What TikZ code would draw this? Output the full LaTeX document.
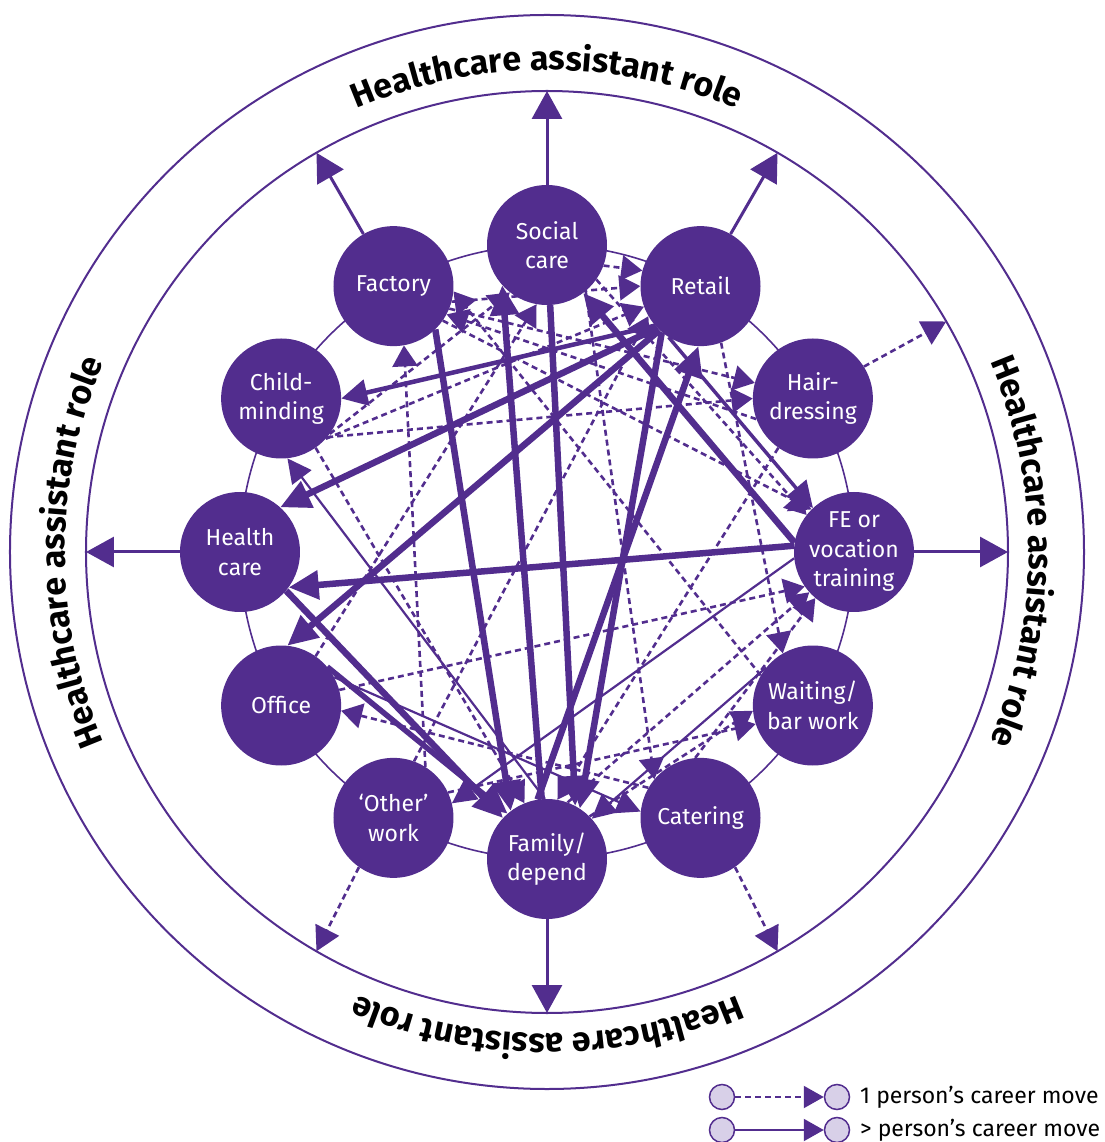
\documentclass[tikz,border=0pt]{standalone}
\usepackage{fontspec}
\setmainfont{Fira Sans}
\usetikzlibrary{arrows.meta,decorations.text}
\definecolor{pp}{RGB}{82,45,142}
\definecolor{lav}{RGB}{216,208,232}
\begin{document}
\begin{tikzpicture}[x=1pt,y=1pt,
  nd/.style={circle,fill=pp,minimum size=120pt,inner sep=0pt,align=center,text=white,font=\fontsize{23}{29.5}\selectfont},
  heavy/.style={draw=pp,line width=6.5pt,-{Triangle[length=30pt,width=28pt]}},
  medium/.style={draw=pp,line width=4.5pt,-{Triangle[length=26pt,width=26pt]}},
  light/.style={draw=pp,line width=2.2pt,-{Triangle[length=24pt,width=24pt]}},
  dash1/.style={draw=pp,line width=2.6pt,dash pattern=on 6pt off 4pt,-{Triangle[length=21pt,width=25pt]}},
  outsolid/.style={draw=pp,line width=3pt,-{Triangle[length=28pt,width=30pt]}},
  outdash/.style={draw=pp,line width=2.6pt,dash pattern=on 6pt off 4pt,-{Triangle[length=24pt,width=26pt]}},
  ringtext/.style={decorate,decoration={text along path,text align=center,
     text={|\fontsize{34}{34}\selectfont\bfseries|Healthcare assistant role}}},
  legc/.style={circle,draw=pp,line width=1.5pt,fill=lav,minimum size=25pt,inner sep=0pt},
  legt/.style={anchor=west,inner sep=0pt,font=\fontsize{23}{27}\selectfont}
]
\useasboundingbox (-547,-590) rectangle (557,552);
% rings
\draw[pp,line width=2pt] (0,0) circle (537);
\draw[pp,line width=2pt] (0,0) circle (461);
\draw[pp,line width=1.6pt] (0,0) circle (307);
% ring texts
\path[ringtext] (130:482) arc[start angle=130,end angle=50,radius=482];
\path[ringtext] (40:482) arc[start angle=40,end angle=-40,radius=482];
\path[ringtext] (-50:482) arc[start angle=-50,end angle=-130,radius=482];
\path[ringtext] (220:482) arc[start angle=220,end angle=140,radius=482];
% nodes
\node[nd] (S)  at (90:307)  {Social\\care};
\node[nd] (R)  at (60:307)  {Retail};
\node[nd] (H)  at (30:307)  {Hair-\\dressing};
\node[nd] (FE) at (0:307)   {FE or\\vocation\\training};
\node[nd] (W)  at (-30:307) {Waiting/\\bar work};
\node[nd] (C)  at (-60:307) {Catering};
\node[nd] (F)  at (-90:307) {Family/\\depend};
\node[nd] (O)  at (-120:307) {‘Other’\\work};
\node[nd] (Of) at (-150:307) {Office};
\node[nd] (HC) at (180:307) {Health\\care};
\node[nd] (CM) at (150:307) {Child-\\minding};
\node[nd] (Fa) at (120:307) {Factory};
% ring tips
\coordinate (tS)  at (90:461);
\coordinate (tR)  at (60:461);
\coordinate (tH)  at (30:461);
\coordinate (tFE) at (0:461);
\coordinate (tC)  at (-60:461);
\coordinate (tF)  at (-90:461);
\coordinate (tO)  at (-120:461);
\coordinate (tHC) at (180:461);
\coordinate (tFa) at (120:461);
% outward arrows
\draw[outsolid] (S.90) -- (tS);
\draw[outsolid] (R.60) -- (tR);
\draw[outsolid] (FE.0) -- (tFE);
\draw[outsolid] (F.270) -- (tF);
\draw[outsolid] (HC.180) -- (tHC);
\draw[outsolid] (Fa.120) -- (tFa);
\draw[outdash] (H.32) -- (tH);
\draw[outdash] (C.-55) -- (tC);
\draw[outdash] (O.-125) -- (tO);
% dashed moves (one person)
\draw[dash1] (CM.-40) -- (H.180);
\draw[dash1] (CM.-42) -- (R.200);
\draw[dash1] (CM.-36) -- (S.232);
\draw[dash1] (O.58) -- (Fa.-80);
\draw[dash1] (C.150) -- (Of.-5);
\draw[dash1] (Of.55) -- (S.-100);
\draw[dash1] (Fa.-15) -- (R.180);
\draw[dash1] (Fa.-35) -- (FE.135);
\draw[dash1] (S.-50) -- (C.140);
\draw[dash1] (F.45) -- (W.185);
\draw[dash1] (F.70) -- (FE.222);
\draw[dash1] (C.95) -- (FE.230);
\draw[dash1] (O.25) -- (W.198);
\draw[dash1] (S.-35) -- (FE.142);
\draw[dash1] (Fa.-22) -- (H.165);
\draw[dash1] (R.-70) -- (W.120);
\draw[dash1] (H.235) -- (F.80);
\draw[dash1] (Of.15) -- (FE.215);
\draw[dash1] (W.150) -- (Fa.-5);
\draw[dash1] (CM.-55) -- (F.112);
\draw[dash1] (O.70) -- (R.210);
\draw[dash1] (H.200) -- (Fa.-28);
\draw[dash1] (S.-20) -- (R.165);
% solid moves (more than one person)
\draw[heavy] (R.224) -- (HC.48);
\draw[heavy] (R.227) -- (Of.84);
\draw[heavy] (FE.174) -- (HC.-36);
\draw[heavy] (FE.171) -- (S.-53);
\draw[heavy] (Fa.-46) -- (F.127);
\draw[heavy] (F.95) -- (S.222);
\draw[heavy] (S.-87) -- (F.62);
\draw[heavy] (R.230) -- (F.57);
\draw[heavy] (F.99) -- (R.268);
\draw[heavy] (HC.-40) -- (F.137);
\draw[heavy,line width=5.5pt] (Of.40) -- (F.131);
\draw[medium] (R.221) -- (CM.0);
\draw[medium,line width=3.5pt] (R.238) -- (FE.133);
\draw[light] (F.92) -- (CM.-84);
\draw[light] (FE.186) -- (O.14);
\draw[light] (W.141) -- (F.42);
\draw[light] (Of.28) -- (C.174);
% legend
\node[legc] (la) at (175,-545) {};
\node[legc] (lb) at (290,-545) {};
\draw[dash1,line width=2.2pt,-{Triangle[length=20pt,width=22pt]}] (la) -- (lb);
\node[legt] (lt1) at (313,-545) {1 person’s career move};
\node[legc] (lc) at (175,-578) {};
\node[legc] (ld) at (290,-578) {};
\draw[light,-{Triangle[length=20pt,width=22pt]}] (lc) -- (ld);
\node[legt] (lt2) at (313,-578) {> person’s career move};
\end{tikzpicture}
\end{document}
